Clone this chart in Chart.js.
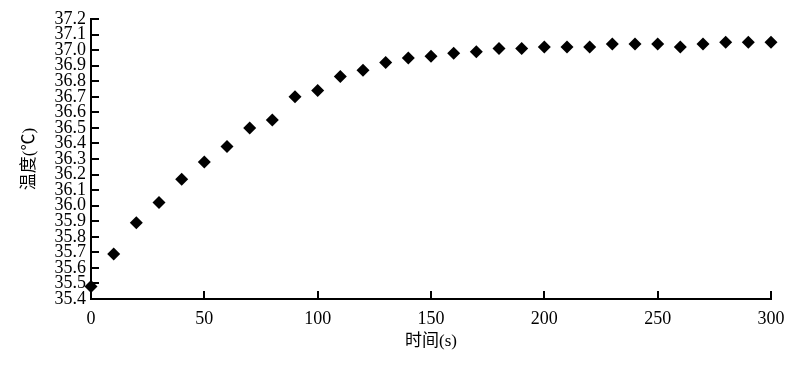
<!DOCTYPE html>
<html>
<head>
<meta charset="utf-8">
<script src="https://cdn.jsdelivr.net/npm/chart.js@4"></script>
<style>
  html, body { margin: 0; padding: 0; background: #fff; }
  #wrap { width: 800px; height: 365px; }
</style>
</head>
<body>
<div id="wrap"><canvas id="c" width="800" height="365"></canvas></div>
<script>
const times = [0,10,20,30,40,50,60,70,80,90,100,110,120,130,140,150,160,170,180,190,200,210,220,230,240,250,260,270,280,290,300];
const temps = [35.48,35.69,35.89,36.02,36.17,36.28,36.38,36.50,36.55,36.70,36.74,36.83,36.87,36.92,36.95,36.96,36.98,36.99,37.01,37.01,37.02,37.02,37.02,37.04,37.04,37.04,37.02,37.04,37.05,37.05,37.05];
const xTitle = '时间(s)';
const yTitle = '温度(℃)';
const xMin = 0, xMax = 300, xStep = 50;
const yMin = 35.4, yMax = 37.2, yStep = 0.1;

const points = times.map((t, i) => ({ x: t, y: temps[i] }));
const numFont = "'Liberation Serif', 'Times New Roman', serif";
const cjkFont = "'Liberation Serif', 'Noto Sans CJK SC', serif";

const innerTicks = {
  id: 'innerTicks',
  afterDraw(chart) {
    const ctx = chart.ctx;
    const xs = chart.scales.x, ys = chart.scales.y;
    ctx.save();
    ctx.strokeStyle = '#000';
    ctx.lineWidth = 2;
    ctx.beginPath();
    xs.ticks.forEach(tk => {
      const p = Math.round(xs.getPixelForValue(tk.value));
      ctx.moveTo(p, xs.top);
      ctx.lineTo(p, xs.top - 8);
    });
    ys.ticks.forEach(tk => {
      const p = Math.round(ys.getPixelForValue(tk.value));
      ctx.moveTo(ys.right, p);
      ctx.lineTo(ys.right + 8, p);
    });
    ctx.stroke();
    ctx.restore();
  }
};

new Chart(document.getElementById('c'), {
  type: 'scatter',
  data: {
    datasets: [{
      data: points,
      pointStyle: 'rectRot',
      pointRadius: 6.5,
      pointHoverRadius: 6.5,
      backgroundColor: '#000',
      borderColor: '#000',
      borderWidth: 0,
      clip: false
    }]
  },
  options: {
    responsive: false,
    animation: false,
    layout: { padding: { left: 10, right: 29, top: 19, bottom: 0 } },
    plugins: { legend: { display: false }, tooltip: { enabled: false } },
    scales: {
      x: {
        type: 'linear',
        min: xMin, max: xMax,
        grid: { drawOnChartArea: false, drawTicks: false },
        border: { display: true, color: '#000', width: 2 },
        ticks: { stepSize: xStep, color: '#000', padding: 9, font: { family: numFont, size: 18 } },
        title: { display: true, text: xTitle, color: '#000', padding: { top: 0, bottom: 13 }, font: { family: cjkFont, size: 17 } },
        afterFit(s) { s.height = 66; }
      },
      y: {
        type: 'linear',
        min: yMin, max: yMax,
        grid: { drawOnChartArea: false, drawTicks: false },
        border: { display: true, color: '#000', width: 2 },
        ticks: {
          stepSize: yStep, autoSkip: false, color: '#000', padding: 5,
          font: { family: numFont, size: 18 },
          callback: v => Number(v).toFixed(1)
        },
        title: { display: true, text: yTitle, color: '#000', padding: { top: 9, bottom: 0 }, font: { family: cjkFont, size: 17 } },
        afterFit(s) { s.width = 81; }
      }
    }
  },
  plugins: [innerTicks]
});
</script>
</body>
</html>
